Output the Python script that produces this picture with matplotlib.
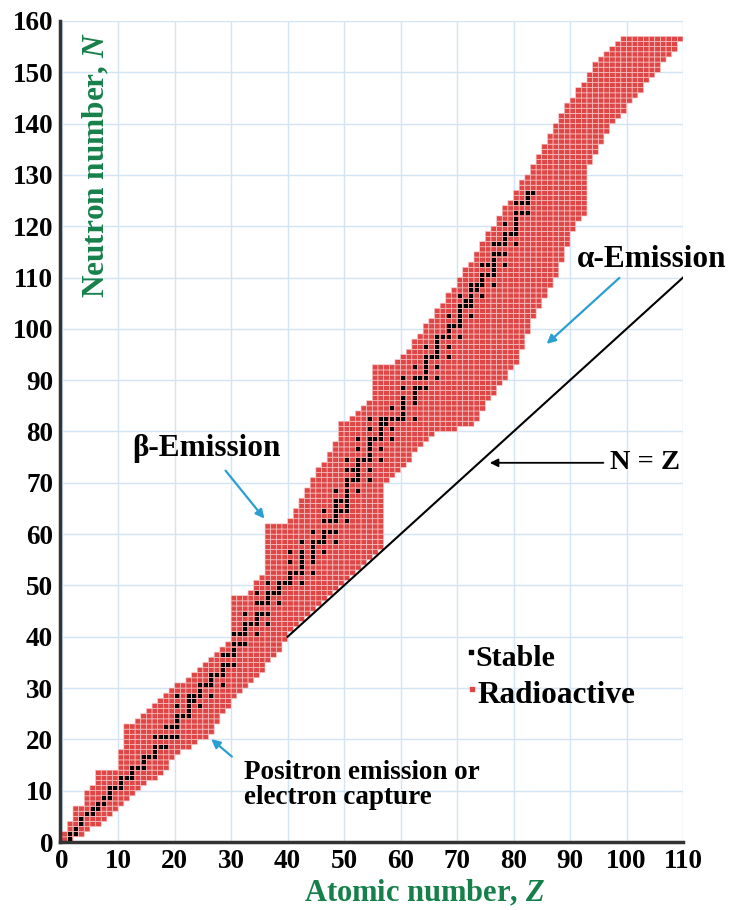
import numpy as np
import matplotlib
matplotlib.use("Agg")
import matplotlib.pyplot as plt
from matplotlib.colors import ListedColormap

plt.rcParams['font.family'] = ['Liberation Serif', 'DejaVu Serif']
plt.rcParams['font.weight'] = 'bold'
plt.rcParams['mathtext.fontset'] = 'custom'
plt.rcParams['mathtext.it'] = 'Liberation Serif:italic:bold'
plt.rcParams['mathtext.rm'] = 'Liberation Serif:bold'
plt.rcParams['mathtext.bf'] = 'Liberation Serif:bold'

# ---- band of known nuclides: per atomic number Z, lowest and highest N ----
band_Z = list(range(0, 110))
band_lo = [0, 0, 1, 1, 2, 3, 3, 4, 5, 6,
           7, 8, 9, 10, 11, 12, 12, 13, 14, 16,
           17, 18, 18, 19, 20, 20, 21, 23, 25, 26,
           28, 29, 30, 31, 32, 33, 35, 36, 37, 39,
           41, 42, 43, 44, 45, 46, 47, 48, 49, 50,
           51, 52, 53, 54, 55, 56, 57, 70, 71, 72,
           73, 74, 76, 77, 78, 79, 80, 80, 80, 80,
           81, 81, 81, 82, 84, 86, 87, 89, 90, 92,
           93, 96, 99, 102, 104, 106, 108, 110, 113, 116,
           119, 121, 122, 132, 134, 136, 138, 140, 141, 142,
           144, 145, 146, 148, 149, 150, 152, 153, 154, 156]
band_hi = [1, 3, 6, 6, 9, 10, 13, 13, 13, 13,
           17, 22, 22, 23, 24, 25, 26, 27, 28, 29,
           30, 30, 31, 32, 33, 34, 35, 36, 37, 38,
           47, 47, 47, 48, 50, 51, 61, 61, 61, 61,
           62, 64, 66, 68, 70, 72, 73, 75, 77, 81,
           81, 82, 83, 84, 85, 92, 92, 92, 92, 93,
           94, 95, 97, 98, 100, 101, 103, 104, 106, 107,
           109, 111, 112, 114, 116, 118, 119, 121, 123, 124,
           126, 128, 129, 131, 133, 135, 137, 139, 141, 143,
           144, 146, 147, 149, 151, 152, 153, 154, 155, 156,
           156, 156, 156, 156, 156, 156, 156, 156, 156, 156]

# ---- stable isotopes: mass numbers per element (index = Z - 1) ----
stable_A = [
    [1, 2], [3, 4], [6, 7], [9], [10, 11], [12, 13], [14, 15], [16, 17, 18], [19], [20, 21, 22],
    [23], [24, 25, 26], [27], [28, 29, 30], [31], [32, 33, 34, 36], [35, 37], [36, 38, 40], [39, 41],
    [40, 42, 43, 44, 46, 48], [45], [46, 47, 48, 49, 50], [50, 51], [50, 52, 53, 54], [55],
    [54, 56, 57, 58], [59], [58, 60, 61, 62, 64], [63, 65], [64, 66, 67, 68, 70], [69, 71],
    [70, 72, 73, 74, 76], [75], [74, 76, 77, 78, 80, 82], [79, 81], [78, 80, 82, 83, 84, 86],
    [85], [84, 86, 87, 88], [89], [90, 91, 92, 94, 96], [93], [92, 94, 95, 96, 97, 98, 100], [],
    [96, 98, 99, 100, 101, 102, 104], [103], [102, 104, 105, 106, 108, 110], [107, 109],
    [106, 108, 110, 111, 112, 113, 114, 116], [113, 115],
    [112, 114, 115, 116, 117, 118, 119, 120, 122, 124], [121, 123],
    [120, 122, 123, 124, 125, 126, 128, 130], [127], [124, 126, 128, 129, 130, 131, 132, 134, 136],
    [133], [130, 132, 134, 135, 136, 137, 138], [138, 139], [136, 138, 140, 142], [141],
    [142, 143, 144, 145, 146, 148, 150], [], [144, 147, 148, 149, 150, 152, 154], [151, 153],
    [152, 154, 155, 156, 157, 158, 160], [159], [156, 158, 160, 161, 162, 163, 164], [165],
    [162, 164, 166, 167, 168, 170], [169], [168, 170, 171, 172, 173, 174, 176], [175, 176],
    [174, 176, 177, 178, 179, 180], [180, 181], [180, 182, 183, 184, 186], [185, 187],
    [184, 186, 187, 188, 189, 190, 192], [191, 193], [190, 192, 194, 195, 196, 198], [197],
    [196, 198, 199, 200, 201, 202, 204], [203, 205], [204, 206, 207, 208], [209],
]

x_ticks = list(range(0, 111, 10))
y_ticks = list(range(0, 161, 10))

RED = '#e04646'
GREEN = '#16804a'
CYAN = '#2b9fd1'

fig = plt.figure(figsize=(7.34, 9.10), dpi=100)
ax = fig.add_axes([60 / 734, 68 / 910, (683 - 60) / 734, (842 - 21) / 910])

# band cells
Nedges = np.arange(0, 162)
Zedges = np.arange(0, 111)
grid = np.zeros((len(Nedges) - 1, len(Zedges) - 1))
for z, lo, hi in zip(band_Z, band_lo, band_hi):
    grid[lo:hi + 1, z] = 1
masked = np.ma.masked_where(grid == 0, grid)
ax.pcolor(Zedges, Nedges, masked, cmap=ListedColormap([RED]),
          edgecolors='#f6caca', linewidth=0.45, zorder=2)

# stable points
sz, sn = [], []
for i, masses in enumerate(stable_A):
    z = i + 1
    for a in masses:
        sz.append(z + 0.5)
        sn.append(a - z + 0.5)
ax.scatter(sz, sn, s=6, marker='s', color='black', linewidths=0, zorder=3)

# N = Z line
ax.plot([40, 110], [40, 110], color='black', lw=1.5, zorder=4)

ax.set_xlim(-0.3, 110)
ax.set_ylim(0, 160)
ax.set_xticks(x_ticks)
ax.set_yticks(y_ticks)
ax.grid(True, color='#d3e5f4', lw=1.0, zorder=0)
ax.set_axisbelow(True)
for s in ['top', 'right']:
    ax.spines[s].set_visible(False)
for s in ['left', 'bottom']:
    ax.spines[s].set_color('#333333')
    ax.spines[s].set_linewidth(2.5)
ax.tick_params(length=0, labelsize=19.5)
ax.tick_params(axis='x', pad=5)
ax.tick_params(axis='y', pad=5)
for lab in ax.get_xticklabels() + ax.get_yticklabels():
    lab.set_fontweight('bold')

# axis titles
ax.text(6.2, 132, 'Neutron number, $\\mathit{N}$', rotation=90, ha='center', va='center',
        color=GREEN, fontsize=22.5, fontweight='bold')
fig.text(424 / 734, 1 - 893 / 910, 'Atomic number, $\\mathit{Z}$', ha='center', va='center',
         color=GREEN, fontsize=22, fontweight='bold')

# annotations
ax.text(25.6, 76.7, 'β-Emission', ha='center', va='center', fontsize=22.5, fontweight='bold')
ax.annotate('', xy=(36.2, 62.6), xytext=(28.7, 72.8),
            arrowprops=dict(arrowstyle='-|>', color=CYAN, lw=1.6, mutation_scale=13), zorder=6)
ax.text(104.4, 113.6, 'α-Emission', ha='center', va='center', fontsize=22.5, fontweight='bold')
ax.annotate('', xy=(85.5, 96.7), xytext=(99.1, 110.3),
            arrowprops=dict(arrowstyle='-|>', color=CYAN, lw=1.6, mutation_scale=13), zorder=6)
ax.text(97.0, 73.9, 'N = Z', ha='left', va='center', fontsize=20.5, fontweight='bold')
ax.annotate('', xy=(75.3, 73.9), xytext=(96.4, 73.9),
            arrowprops=dict(arrowstyle='-|>', color='black', lw=1.3, mutation_scale=12), zorder=6)
ax.text(32.3, 11.2, 'Positron emission or\nelectron capture', ha='left', va='center',
        fontsize=19.5, fontweight='bold', linespacing=1.0)
ax.annotate('', xy=(26.1, 20.4), xytext=(30.5, 16.3),
            arrowprops=dict(arrowstyle='-|>', color=CYAN, lw=1.6, mutation_scale=13), zorder=6)

# legend-like labels
ax.scatter([72.4], [37.0], s=5, marker='s', color='black', zorder=6)
ax.text(73.3, 35.8, 'Stable', ha='left', va='center', fontsize=21.5, fontweight='bold')
ax.scatter([72.7], [29.8], s=5, marker='s', color=RED, zorder=6)
ax.text(73.6, 28.6, 'Radioactive', ha='left', va='center', fontsize=22.5, fontweight='bold')

fig.savefig('out.png', dpi=100, facecolor='white')
